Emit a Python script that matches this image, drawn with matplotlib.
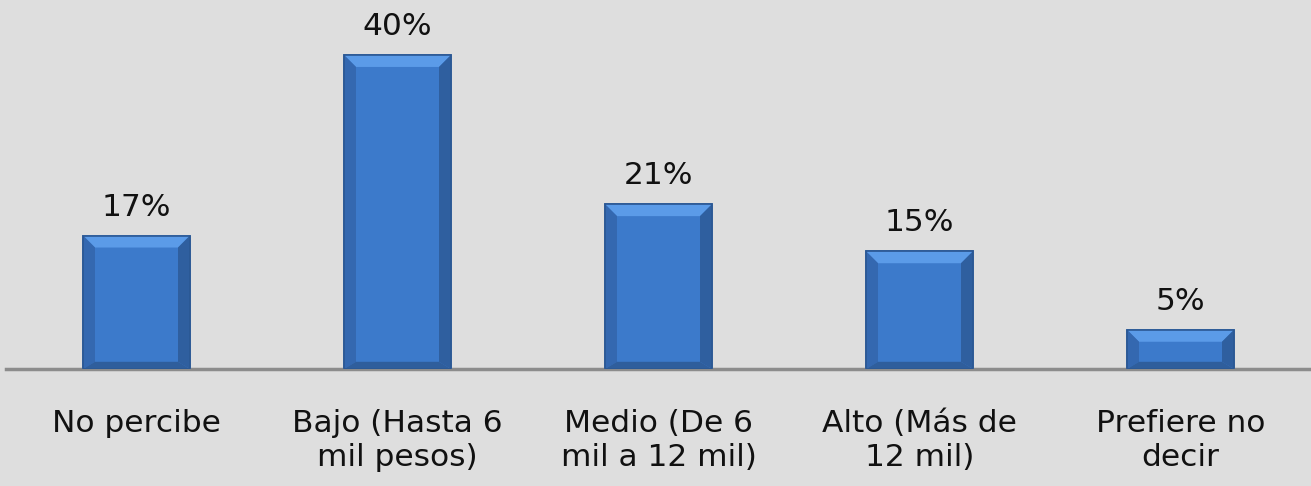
import matplotlib.pyplot as plt
from matplotlib.patches import Polygon

categorias = ['No percibe', 'Bajo (Hasta 6\nmil pesos)', 'Medio (De 6\nmil a 12 mil)',
              'Alto (Más de\n12 mil)', 'Prefiere no\ndecir']
porcentajes = [17, 40, 21, 15, 5]
etiquetas = ['17%', '40%', '21%', '15%', '5%']

fondo = '#dedede'
W, H = 1311, 486

fig = plt.figure(figsize=(W / 100, H / 100), dpi=100, facecolor=fondo)
ax = fig.add_axes([6 / W, (H - 369) / H, 1 - 6 / W, 369 / H])
ax.set_facecolor(fondo)

x = list(range(len(categorias)))
ancho = 0.41
barras = ax.bar(x, porcentajes, width=ancho, color='#3c7acb', edgecolor='#2d5d9c',
                linewidth=1.2, zorder=2)
ax.set_xlim(-0.5, len(categorias) - 0.5)
ax.set_ylim(0, 47.0)

# bisel: tamaño en pixeles convertido a unidades de datos
bx = 12 / 261.0
by = 12 / 7.85
for b in barras:
    x0, y0 = b.get_x(), b.get_y()
    x1, y1 = x0 + b.get_width(), y0 + b.get_height()
    dy = min(by, (y1 - y0) / 3)
    sup = Polygon([(x0, y1), (x1, y1), (x1 - bx, y1 - dy), (x0 + bx, y1 - dy)],
                  closed=True, facecolor='#5b9be8', edgecolor='none', zorder=3)
    izq = Polygon([(x0, y0), (x0, y1), (x0 + bx, y1 - dy), (x0 + bx, y0 + dy * 0.6)],
                  closed=True, facecolor='#3468b0', edgecolor='none', zorder=3)
    der = Polygon([(x1, y0), (x1, y1), (x1 - bx, y1 - dy), (x1 - bx, y0 + dy * 0.6)],
                  closed=True, facecolor='#2f5f9f', edgecolor='none', zorder=3)
    inf = Polygon([(x0, y0), (x1, y0), (x1 - bx, y0 + dy * 0.6), (x0 + bx, y0 + dy * 0.6)],
                  closed=True, facecolor='#2f5e9c', edgecolor='none', zorder=3)
    for p in (sup, izq, der, inf):
        ax.add_patch(p)
    ax.add_patch(Polygon([(x0, y0), (x1, y0), (x1, y1), (x0, y1)], closed=True,
                         facecolor='none', edgecolor='#2b5894', linewidth=1.2, zorder=4))

for xi, v, t in zip(x, porcentajes, etiquetas):
    ax.annotate(t, (xi, v), xytext=(0, 10), textcoords='offset points',
                ha='center', va='bottom', fontsize=22.5, color='#111111')

ax.set_xticks(x)
ax.set_xticklabels(categorias, fontsize=22.5, color='#111111', linespacing=1.2)
ax.tick_params(axis='x', length=0, pad=29)
ax.set_yticks([])
for lado in ['top', 'right', 'left']:
    ax.spines[lado].set_visible(False)
ax.spines['bottom'].set_color('#8c8c8c')
ax.spines['bottom'].set_linewidth(2.5)

fig.savefig('out.png', dpi=100, facecolor=fondo)
